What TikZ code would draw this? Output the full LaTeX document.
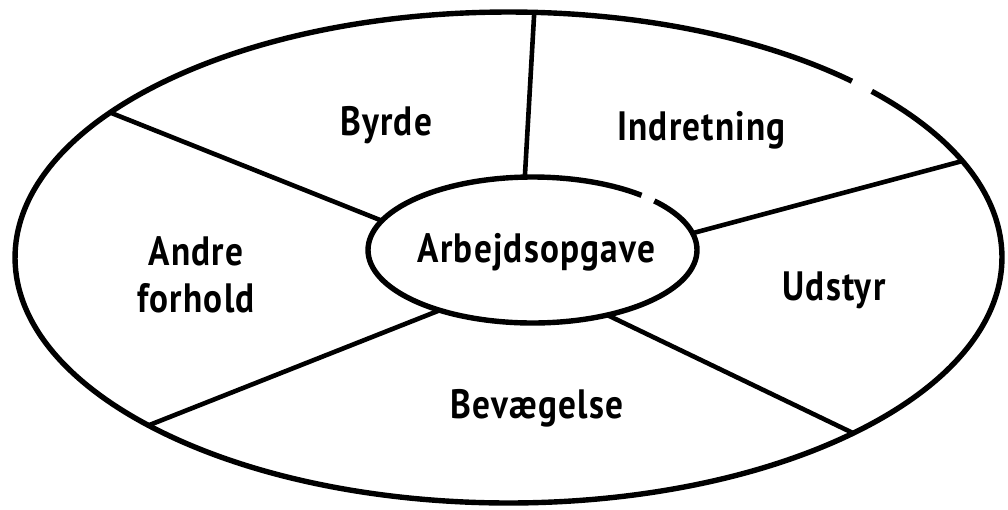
\documentclass[tikz,border=0pt]{standalone}
\usepackage{fontspec}
\setmainfont{PT Sans}[FakeStretch=0.86,LetterSpace=3]
\usetikzlibrary{shapes.geometric}
\begin{document}
\begin{tikzpicture}[x=1pt,y=-1pt,
  ring/.style={ellipse,inner sep=0pt,outer sep=0pt},
  ringline/.style={line width=5.4pt},
  spoke/.style={line width=4.6pt,line cap=round},
  label/.style={anchor=base,inner sep=0pt,font=\fontsize{41}{47}\selectfont\bfseries}]
\useasboundingbox (0,0) rectangle (1008,509);

% outer ring and central task (shapes give the anchors, arcs draw the strokes)
\node[ring,minimum width=987pt,minimum height=491pt] (outer) at (508.5,257.5) {};
\node[ring,minimum width=329pt,minimum height=146pt] (inner) at (532.5,250) {};
\draw[ringline] (outer.center) ++(-42.6:493.5 and 245.5)
  arc[start angle=-42.6,end angle=314.1,x radius=493.5,y radius=245.5];
\draw[ringline] (inner.center) ++(-42.2:164.5 and 73)
  arc[start angle=-42.2,end angle=311.5,x radius=164.5,y radius=73];

% spokes dividing the ring into five fields
\draw[spoke] (outer.84.5)  -- (inner.96.6);
\draw[spoke] (outer.12.7)  -- (inner.6.3);
\draw[spoke] (outer.-27.4) -- (inner.-41.2);
\draw[spoke] (outer.205.7) -- (inner.213.7);
\draw[spoke] (outer.160.2) -- (inner.169.4);

% field names
\node[label] (task)  at (536.5,262) {Arbejdsopgave};
\node[label] (byrde) at (386,135) {Byrde};
\node[label] (indr)  at (701.5,140) {Indretning};
\node[label] (udst)  at (834,300) {Udstyr};
\node[label] (bev)   at (537,418) {Bevægelse};
\node[label] (andre) at (196,265) {Andre};
\node[label] (forh)  at (196,312) {forhold};
\end{tikzpicture}
\end{document}
